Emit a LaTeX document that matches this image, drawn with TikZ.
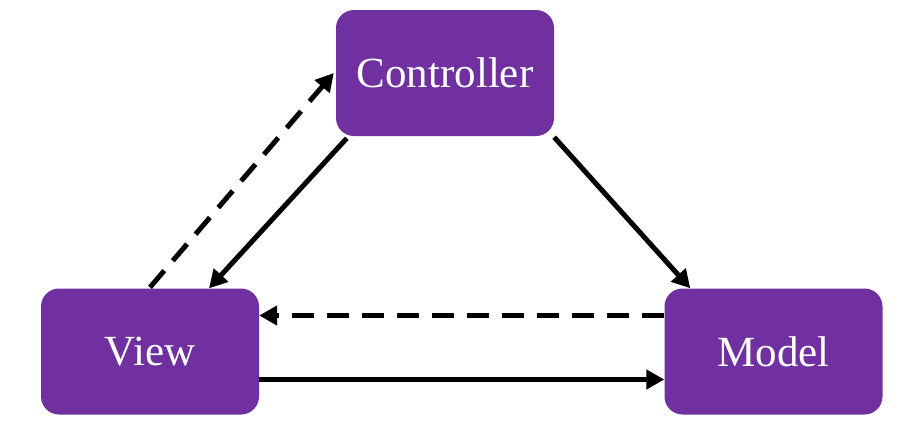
\documentclass[tikz,border=0pt]{standalone}
\usepackage{fontspec}
\setmainfont{Liberation Serif}
\usetikzlibrary{arrows.meta}
\definecolor{boxpurple}{HTML}{7030A0}
\tikzset{
  mvcbox/.style={fill=boxpurple, draw=none, rounded corners=18pt,
    minimum width=218pt, minimum height=126pt, inner sep=0pt,
    text=white, font=\fontsize{43}{47}\selectfont},
  link/.style={line width=5pt, -{Triangle[length=18pt,width=19pt]}},
  weaklink/.style={link, dash pattern=on 22pt off 13pt},
}
\begin{document}
\begin{tikzpicture}[x=1pt,y=-1pt]
  \useasboundingbox (0,0) rectangle (905,440);
  \node[mvcbox] (ctrl)  at (445,73)    {Controller};
  \node[mvcbox] (view)  at (150,351.5) {View};
  \node[mvcbox] (model) at (773.5,351.5) {Model};
  % user actions go from the view to the controller
  \draw[weaklink] ([yshift=1pt]view.north) -- ([xshift=-2pt]ctrl.west);
  % controller updates view and model
  \draw[link] ([xshift=11pt,yshift=-2pt]ctrl.south west) -- ([xshift=59pt]view.north);
  \draw[link] ([yshift=-1pt]ctrl.south east) -- ([xshift=26pt]model.north west);
  % model notifies the view, view reads the model
  \draw[weaklink] ([yshift=36pt]model.west) -- ([yshift=36pt]view.east);
  \draw[link] ([yshift=-28pt]view.east) -- ([yshift=-28pt]model.west);
\end{tikzpicture}
\end{document}
